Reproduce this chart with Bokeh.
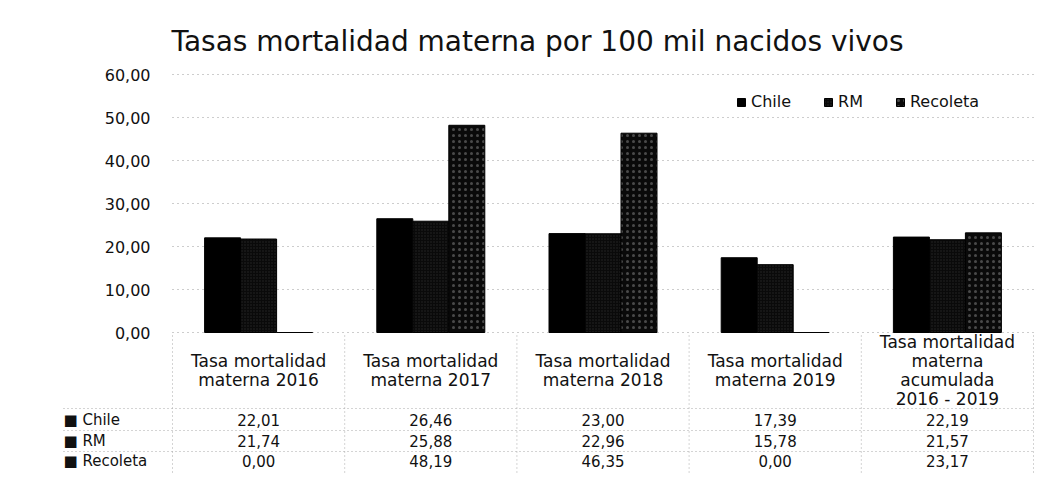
from bokeh.plotting import figure
from bokeh.models import (ColumnDataSource, Range1d, Legend, LegendItem, Label)
from bokeh.embed import file_html
from bokeh.resources import INLINE
from bokeh.core.properties import value

# ---------------- data ----------------
title_text = "Tasas mortalidad materna por 100 mil nacidos vivos"
categories = [
    "Tasa mortalidad\nmaterna 2016",
    "Tasa mortalidad\nmaterna 2017",
    "Tasa mortalidad\nmaterna 2018",
    "Tasa mortalidad\nmaterna 2019",
    "Tasa mortalidad\nmaterna\nacumulada\n2016 - 2019",
]
series = ["Chile", "RM", "Recoleta"]
chile = [22.01, 26.46, 23.00, 17.39, 22.19]
rm = [21.74, 25.88, 22.96, 15.78, 21.57]
recoleta = [0.00, 48.19, 46.35, 0.00, 23.17]
y_ticks = [0, 10, 20, 30, 40, 50, 60]

values = [chile, rm, recoleta]

def fmt(v):
    return f"{v:.2f}".replace(".", ",")

# ---------------- layout (canvas px) ----------------
W, H = 1035, 474
PL, PR = 172, 1033           # plot area left/right
ZERO_PX, PX_PER_UNIT = 332, 4.3
N = len(categories)
CAT_PX = (PR - PL) / N

def xd(px):   # canvas x -> data x
    return (px - PL) / CAT_PX

def yd(py):   # canvas y -> data y
    return (ZERO_PX - py) / PX_PER_UNIT

FONT = "DejaVu Sans"
TXT = "#111111"

p = figure(width=W, height=H, output_backend="svg", toolbar_location=None,
           x_range=Range1d(xd(0), xd(W)), y_range=Range1d(yd(H), yd(0)),
           min_border_left=0, min_border_right=0, min_border_top=0,
           min_border_bottom=0, outline_line_color=None,
           background_fill_color="white", border_fill_color="white")
p.xaxis.visible = False
p.yaxis.visible = False
p.xgrid.visible = False
p.ygrid.visible = False

# horizontal gridlines (dotted) across plot area
p.segment(x0=[0] * len(y_ticks), y0=y_ticks, x1=[N] * len(y_ticks), y1=y_ticks,
          line_color="#9a9a9a", line_dash="1 4", line_width=1)

# y tick labels
ysrc = ColumnDataSource(dict(x=[xd(150)] * len(y_ticks), y=y_ticks,
                             t=[fmt(t) for t in y_ticks]))
p.text(x="x", y="y", text="t", source=ysrc, text_align="right",
       text_baseline="middle", text_font=value(FONT), text_font_size="16px",
       text_color=TXT)

# ---------------- bars ----------------
bw = 36 / CAT_PX
offsets = [-bw, 0, bw]
styles = [
    dict(fill_color="black", line_color="black"),
    dict(fill_color="#0a0a0a", line_color="black", hatch_pattern="dot",
         hatch_color="#444444", hatch_scale=3, hatch_alpha=0.5),
    dict(fill_color="#0a0a0a", line_color="black", hatch_pattern="dot",
         hatch_color="#aaaaaa", hatch_scale=6, hatch_alpha=0.4),
]
renderers = []
for j, name in enumerate(series):
    src = ColumnDataSource(dict(
        x=[i + 0.5 + offsets[j] for i in range(N)],
        top=values[j]))
    r = p.vbar(x="x", top="top", bottom=0, width=bw, source=src, **styles[j])
    renderers.append(r)

legend = Legend(items=[LegendItem(label=n, renderers=[r]) for n, r in zip(series, renderers)],
                orientation="horizontal", location=(736, 363),
                label_text_font=FONT, label_text_font_size="16px",
                label_text_color=TXT, glyph_width=10, glyph_height=10,
                label_standoff=5, spacing=32, padding=0, margin=0,
                border_line_color=None, background_fill_alpha=0)
p.add_layout(legend, "center")

# ---------------- title ----------------
p.add_layout(Label(x=xd(537), y=yd(41), text=title_text, text_align="center",
                   text_baseline="middle", text_font=FONT, text_font_size="28px",
                   text_color=TXT))

# ---------------- data table ----------------
line_col = "#a8a8a8"
vx = list(range(N + 1))
p.segment(x0=vx, y0=[yd(335)] * (N + 1), x1=vx, y1=[yd(H)] * (N + 1),
          line_color=line_col, line_dash="1 3", line_width=1)
hy = [yd(408), yd(430), yd(451)]
p.segment(x0=[xd(63)] * 3, y0=hy, x1=[N] * 3, y1=hy,
          line_color=line_col, line_dash="1 3", line_width=1)

hdr = ColumnDataSource(dict(x=[i + 0.5 for i in range(N)],
                            y=[yd(370)] * N, t=categories))
p.text(x="x", y="y", text="t", source=hdr, text_align="center",
       text_baseline="middle", text_font=value(FONT), text_font_size="17px",
       text_color=TXT, text_line_height=0.95)

row_px = [419, 440, 460]
for j, name in enumerate(series):
    src = ColumnDataSource(dict(x=[i + 0.5 for i in range(N)],
                                y=[yd(row_px[j])] * N,
                                t=[fmt(v) for v in values[j]]))
    p.text(x="x", y="y", text="t", source=src, text_align="center",
           text_baseline="middle", text_font=value(FONT), text_font_size="15px",
           text_color=TXT)

rl = ColumnDataSource(dict(x=[xd(63)] * 3, y=[yd(py) for py in row_px],
                           t=["\u25a0 " + s for s in series]))
p.text(x="x", y="y", text="t", source=rl, text_align="left",
       text_baseline="middle", text_font=value(FONT), text_font_size="15px",
       text_color=TXT)

open("out.html", "w").write(file_html(p, INLINE))
